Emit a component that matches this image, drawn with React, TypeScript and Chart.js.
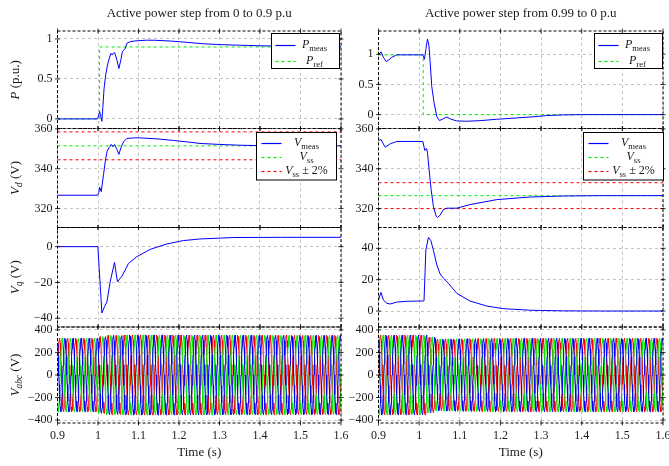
import React, { useEffect, useRef } from 'react';
import { Chart, registerables } from 'chart.js';
Chart.register(...registerables);

const W = 669;
const H = 466;
const FONT = '"Liberation Serif", "Times New Roman", serif';

// ---------- data ----------
const X_MIN = 0.9;
const X_MAX = 1.6;
const X_TICKS = [0.9, 1, 1.1, 1.2, 1.3, 1.4, 1.5, 1.6];

const TITLE_LEFT = 'Active power step from 0 to 0.9 p.u';
const TITLE_RIGHT = 'Active power step from 0.99 to 0 p.u';

// left column: P step 0 -> 0.9
const L_P_T = [0.9, 0.95, 0.999, 1.004, 1.007, 1.0096, 1.012, 1.015, 1.019, 1.0235, 1.028, 1.032, 1.035, 1.0385, 1.041, 1.0466, 1.0516, 1.0565, 1.06, 1.067, 1.0713, 1.0795, 1.09, 1.104, 1.12, 1.14, 1.178, 1.227, 1.26, 1.3, 1.35, 1.4, 1.5, 1.6];
const L_P_MEAS = [0, 0, 0, 0.09, 0.03, -0.03, 0.15, 0.38, 0.55, 0.675, 0.76, 0.82, 0.8, 0.825, 0.83, 0.74, 0.63, 0.74, 0.84, 0.88, 0.946, 0.967, 0.975, 0.98, 0.985, 0.984, 0.975, 0.955, 0.94, 0.93, 0.922, 0.915, 0.908, 0.905];
const L_PREF_T = [0.9, 1.004, 1.004, 1.6];
const L_PREF = [0, 0, 0.9, 0.9];

const L_VD_T = [0.9, 0.999, 1.002, 1.004, 1.008, 1.0136, 1.018, 1.0225, 1.028, 1.0326, 1.0367, 1.041, 1.0466, 1.0516, 1.0565, 1.063, 1.0713, 1.09, 1.104, 1.1455, 1.186, 1.2277, 1.252, 1.3, 1.35, 1.4, 1.5, 1.6];
const L_VD = [326.7, 326.7, 328, 330.8, 328.5, 337, 343.8, 348.8, 350.8, 352.2, 351, 352.2, 349.7, 347.2, 350.5, 353.5, 355.2, 355.5, 355.5, 355, 354.2, 353.3, 352.7, 352.2, 351.8, 351.6, 351.5, 351.5];
const L_VSS = 351.5;
const L_VSS_HI = 358.5;
const L_VSS_LO = 344.5;

const L_VQ_T = [0.9, 0.9997, 1.0096, 1.016, 1.022, 1.03, 1.0408, 1.048, 1.059, 1.067, 1.0753, 1.096, 1.129, 1.17, 1.211, 1.252, 1.335, 1.45, 1.6];
const L_VQ = [0, 0, -37.1, -33.5, -30.9, -19.7, -8.8, -19.7, -16.5, -13.1, -9.35, -5.6, -1.5, 1.5, 3.4, 4.3, 5.1, 5.2, 5.2];

// peak amplitude of each 20 ms cycle (35 cycles, 0.9 s .. 1.6 s)
const L_VABC_AMP = [326.5, 326.5, 326.5, 326.5, 326.5, 340, 352, 350, 355, 355.5, 355.5, 355.5, 355.5, 355, 355, 355, 354.5, 354.5, 354, 354, 353.5, 353.5, 353, 353, 352.5, 352.5, 352, 352, 351.5, 351.5, 351.5, 351.5, 351.5, 351.5, 351.5];

// right column: P step 0.99 -> 0
const R_P_T = [0.9, 0.9066, 0.912, 0.919, 0.926, 0.933, 0.945, 0.97, 1.009, 1.013, 1.0165, 1.0204, 1.024, 1.027, 1.031, 1.0369, 1.0435, 1.05, 1.06, 1.068, 1.078, 1.0926, 1.117, 1.15, 1.191, 1.273, 1.314, 1.355, 1.4, 1.6];
const R_P_MEAS = [0.995, 1.04, 0.95, 0.877, 0.91, 0.95, 0.99, 0.99, 0.99, 0.917, 1.08, 1.25, 1.15, 0.88, 0.47, 0.19, -0.033, -0.1, -0.066, -0.04, -0.075, -0.104, -0.11, -0.1, -0.077, -0.04, -0.016, -0.005, 0, 0];
const R_PREF_T = [0.9, 1.01, 1.01, 1.6];
const R_PREF = [0.99, 0.99, 0, 0];

const R_VD_T = [0.9, 0.906, 0.9164, 0.9287, 0.945, 1.009, 1.014, 1.018, 1.0204, 1.0245, 1.0295, 1.035, 1.0418, 1.045, 1.0516, 1.06, 1.068, 1.0926, 1.125, 1.191, 1.273, 1.355, 1.45, 1.6];
const R_VD = [354.2, 354.7, 350.8, 352.5, 353.7, 353.7, 349.2, 350.2, 348.3, 339.5, 329.5, 321.2, 316.2, 315.5, 316.7, 319.5, 320.2, 320.2, 322, 324.5, 325.8, 326.3, 326.5, 326.5];
const R_VSS = 326.5;
const R_VSS_HI = 333.0;
const R_VSS_LO = 320.0;

const R_VQ_T = [0.9, 0.906, 0.912, 0.9206, 0.929, 0.945, 0.97, 1.009, 1.012, 1.0165, 1.0229, 1.0287, 1.035, 1.0435, 1.0516, 1.06, 1.072, 1.0926, 1.125, 1.166, 1.207, 1.273, 1.355, 1.45, 1.6];
const R_VQ = [7, 11.9, 7, 4.9, 4.5, 5.7, 6.2, 6.4, 6.5, 38.9, 47, 45, 38.9, 29.4, 23.6, 20.9, 17.7, 11.3, 6.4, 3.2, 1.5, 0.5, 0.1, 0, 0];

const R_VABC_AMP = [354, 354, 354, 354, 354, 354, 335, 318, 320.5, 320.5, 321.5, 322.5, 323.5, 324, 324.5, 325, 325.5, 326, 326, 326.5, 326.5, 326.5, 326.5, 326.5, 326.5, 326.5, 326.5, 326.5, 326.5, 326.5, 326.5, 326.5, 326.5, 326.5, 326.5];

// one sampled 50 Hz cycle (normalised, 15-degree steps), and the 120-degree phase offsets in samples
const CYCLE_SHAPE = [0, 0.259, 0.5, 0.707, 0.866, 0.966, 1, 0.966, 0.866, 0.707, 0.5, 0.259, 0, -0.259, -0.5, -0.707, -0.866, -0.966, -1, -0.966, -0.866, -0.707, -0.5, -0.259];
const PHASE_OFFSETS = [0, 8, 16];
const CYCLE_S = 0.02;

// tick values
const P_TICKS = [0, 0.5, 1];
const VD_TICKS = [320, 340, 360];
const L_VQ_TICKS = [-40, -20, 0];
const R_VQ_TICKS = [0, 20, 40];
const VABC_TICKS = [-400, -200, 0, 200, 400];

// ---------- styling ----------
const BLUE = '#0000ff';
const GREEN = '#00ee00';
const RED = '#ff0000';
const GRID = '#b4b4b4';
const TEXT = '#1a1a1a';
const Y_AXIS_W = 50;
const X_AXIS_H = 30;

const COLS = [
  { l: 57.5, r: 341 },
  { l: 378.5, r: 663 },
];
const ROWS = [
  { t: 31, b: 128.5 },
  { t: 128.5, b: 227.5 },
  { t: 227.5, b: 327 },
  { t: 327, b: 423 },
];

type Seg = { t: string; it?: boolean; sub?: boolean };

const pts = (T: number[], V: number[]) => T.map((t, i) => ({ x: t, y: V[i] }));
const hline = (v: number) => [{ x: X_MIN, y: v }, { x: X_MAX, y: v }];
const phaseWave = (amp: number[], offset: number) => {
  const n = CYCLE_SHAPE.length;
  const out: { x: number; y: number }[] = [];
  for (let c = 0; c < amp.length; c++) {
    for (let s = 0; s < n; s++) {
      const idx = c * n + s;
      out.push({ x: X_MIN + (idx * CYCLE_S) / n, y: amp[c] * CYCLE_SHAPE[(s - offset + n) % n] });
    }
  }
  const last = amp.length * n;
  out.push({ x: X_MIN + (last * CYCLE_S) / n, y: amp[amp.length - 1] * CYCLE_SHAPE[(n - offset) % n] });
  return out;
};

const fmt = (v: number) => {
  const r = Math.round(v * 10) / 10;
  return r < 0 ? '\u2212' + String(-r) : String(r);
};

function fontOf(seg: Seg, size: number) {
  const s = seg.sub ? size * 0.72 : size;
  return `${seg.it ? 'italic ' : ''}${s}px ${FONT}`;
}

function drawSegs(ctx: CanvasRenderingContext2D, segs: Seg[], cx: number, cy: number, size: number) {
  ctx.textAlign = 'left';
  ctx.textBaseline = 'alphabetic';
  let total = 0;
  const widths = segs.map((s) => {
    ctx.font = fontOf(s, size);
    const w = ctx.measureText(s.t).width;
    total += w;
    return w;
  });
  let x = cx - total / 2;
  const base = cy + size * 0.33;
  segs.forEach((s, i) => {
    ctx.font = fontOf(s, size);
    ctx.fillText(s.t, x, s.sub ? base + size * 0.22 : base);
    x += widths[i];
  });
}

type LegendEntry = { color: string; dash: number[]; label: Seg[] };
type LegendSpec = { right: number; top: number; width: number; height: number; rows: number[]; lineX: [number, number]; textCx: number; entries: LegendEntry[] };

type Panel = {
  col: number;
  row: number;
  yMin: number;
  yMax: number;
  yTicks: number[];
  datasets: any[];
  yLabel?: Seg[];
  title?: string;
  legend?: LegendSpec;
};

const solid = (data: any[], color: string) => ({ data, borderColor: color, borderWidth: 1, pointRadius: 0, fill: false, tension: 0 });
const dashed = (data: any[], color: string) => ({ ...solid(data, color), borderDash: [3, 3] });

const pLegend = (right: number): LegendSpec => ({
  right,
  top: 1.5,
  width: 68,
  height: 35,
  rows: [11, 27.5],
  lineX: [4, 24],
  textCx: 43,
  entries: [
    { color: BLUE, dash: [], label: [{ t: 'P', it: true }, { t: 'meas', sub: true }] },
    { color: GREEN, dash: [3, 3], label: [{ t: 'P', it: true }, { t: 'ref', sub: true }] },
  ],
});
const vLegend = (right: number): LegendSpec => ({
  right,
  top: 3,
  width: 80,
  height: 47.5,
  rows: [10.5, 24, 38.5],
  lineX: [5, 25],
  textCx: 50,
  entries: [
    { color: BLUE, dash: [], label: [{ t: 'V', it: true }, { t: 'meas', sub: true }] },
    { color: GREEN, dash: [3, 3], label: [{ t: 'V', it: true }, { t: 'ss', sub: true }] },
    { color: RED, dash: [3, 3], label: [{ t: 'V', it: true }, { t: 'ss', sub: true }, { t: ' \u00b1 2%' }] },
  ],
});

const PANELS: Panel[] = [
  {
    col: 0, row: 0, yMin: -0.12, yMax: 1.1, yTicks: P_TICKS, title: TITLE_LEFT,
    yLabel: [{ t: 'P', it: true }, { t: ' (p.u.)' }],
    datasets: [solid(pts(L_P_T, L_P_MEAS), BLUE), dashed(pts(L_PREF_T, L_PREF), GREEN)],
    legend: pLegend(2.5),
  },
  {
    col: 0, row: 1, yMin: 310.5, yMax: 360.2, yTicks: VD_TICKS,
    yLabel: [{ t: 'V', it: true }, { t: 'd', it: true, sub: true }, { t: ' (V)' }],
    datasets: [solid(pts(L_VD_T, L_VD), BLUE), dashed(hline(L_VSS), GREEN), dashed(hline(L_VSS_HI), RED), dashed(hline(L_VSS_LO), RED)],
    legend: vLegend(5),
  },
  {
    col: 0, row: 2, yMin: -44.9, yMax: 10.7, yTicks: L_VQ_TICKS,
    yLabel: [{ t: 'V', it: true }, { t: 'q', it: true, sub: true }, { t: ' (V)' }],
    datasets: [solid(pts(L_VQ_T, L_VQ), BLUE)],
  },
  {
    col: 0, row: 3, yMin: -426, yMax: 426, yTicks: VABC_TICKS,
    yLabel: [{ t: 'V', it: true }, { t: 'abc', it: true, sub: true }, { t: ' (V)' }],
    datasets: [
      solid(phaseWave(L_VABC_AMP, PHASE_OFFSETS[2]), BLUE),
      solid(phaseWave(L_VABC_AMP, PHASE_OFFSETS[1]), GREEN),
      solid(phaseWave(L_VABC_AMP, PHASE_OFFSETS[0]), RED),
    ],
  },
  {
    col: 1, row: 0, yMin: -0.23, yMax: 1.385, yTicks: P_TICKS, title: TITLE_RIGHT,
    datasets: [solid(pts(R_P_T, R_P_MEAS), BLUE), dashed(pts(R_PREF_T, R_PREF), GREEN)],
    legend: pLegend(0.7),
  },
  {
    col: 1, row: 1, yMin: 310.5, yMax: 360.2, yTicks: VD_TICKS,
    datasets: [solid(pts(R_VD_T, R_VD), BLUE), dashed(hline(R_VSS), GREEN), dashed(hline(R_VSS_HI), RED), dashed(hline(R_VSS_LO), RED)],
    legend: vLegend(0.5),
  },
  {
    col: 1, row: 2, yMin: -10.2, yMax: 53.3, yTicks: R_VQ_TICKS,
    datasets: [solid(pts(R_VQ_T, R_VQ), BLUE)],
  },
  {
    col: 1, row: 3, yMin: -426, yMax: 426, yTicks: VABC_TICKS,
    datasets: [
      solid(phaseWave(R_VABC_AMP, PHASE_OFFSETS[2]), BLUE),
      solid(phaseWave(R_VABC_AMP, PHASE_OFFSETS[1]), GREEN),
      solid(phaseWave(R_VABC_AMP, PHASE_OFFSETS[0]), RED),
    ],
  },
];

function makeChart(canvas: HTMLCanvasElement, p: Panel) {
  const col = COLS[p.col];
  const row = ROWS[p.row];
  const showX = p.row === 3;
  const xH = showX ? X_AXIS_H : 0;
  const tickFont = { family: FONT, size: 12 };

  const deco = {
    id: 'deco' + p.col + p.row,
    afterDraw(chart: any) {
      const ctx: CanvasRenderingContext2D = chart.ctx;
      const a = chart.chartArea;
      const xs = chart.scales.x;
      const ys = chart.scales.y;
      ctx.save();
      // tick marks on all four sides
      ctx.strokeStyle = '#000';
      ctx.lineWidth = 0.8;
      ctx.setLineDash([]);
      ctx.beginPath();
      X_TICKS.forEach((v) => {
        const x = xs.getPixelForValue(v);
        ctx.moveTo(x, a.top - 2.5); ctx.lineTo(x, a.top + 2.5);
        ctx.moveTo(x, a.bottom - 2.5); ctx.lineTo(x, a.bottom + 2.5);
      });
      p.yTicks.forEach((v) => {
        const y = ys.getPixelForValue(v);
        ctx.moveTo(a.left - 2.5, y); ctx.lineTo(a.left + 2.5, y);
        ctx.moveTo(a.right - 2.5, y); ctx.lineTo(a.right + 2.5, y);
      });
      ctx.stroke();
      // dashed frame
      ctx.lineWidth = 1;
      ctx.setLineDash([3, 2]);
      ctx.strokeRect(a.left, a.top, a.right - a.left, a.bottom - a.top);
      ctx.setLineDash([]);

      // legend
      if (p.legend) {
        const L = p.legend;
        const bx = Math.round(a.right - L.right - L.width) + 0.5;
        const by = Math.round(a.top + L.top) + 0.5;
        ctx.fillStyle = '#fff';
        ctx.fillRect(bx, by, L.width, L.height);
        ctx.strokeStyle = '#000';
        ctx.lineWidth = 1;
        ctx.strokeRect(bx, by, L.width, L.height);
        L.entries.forEach((e, i) => {
          const y = Math.round(by + L.rows[i]) + 0.5;
          ctx.strokeStyle = e.color;
          ctx.lineWidth = 1.2;
          ctx.setLineDash(e.dash);
          ctx.beginPath();
          ctx.moveTo(bx + L.lineX[0], y);
          ctx.lineTo(bx + L.lineX[1], y);
          ctx.stroke();
          ctx.setLineDash([]);
          ctx.fillStyle = TEXT;
          drawSegs(ctx, e.label, bx + L.textCx, y - 1, 12);
        });
      }

      ctx.fillStyle = TEXT;
      if (p.title) {
        ctx.font = `13px ${FONT}`;
        ctx.textAlign = 'center';
        ctx.textBaseline = 'middle';
        ctx.fillText(p.title, (a.left + a.right) / 2, 14);
      }
      if (showX) {
        ctx.font = `13px ${FONT}`;
        ctx.textAlign = 'center';
        ctx.textBaseline = 'middle';
        ctx.fillText('Time (s)', (a.left + a.right) / 2, 453);
      }
      if (p.yLabel) {
        ctx.save();
        ctx.translate(15, (a.top + a.bottom) / 2);
        ctx.rotate(-Math.PI / 2);
        drawSegs(ctx, p.yLabel, 0, 0, 13);
        ctx.restore();
      }
      ctx.restore();
    },
  };

  return new Chart(canvas, {
    type: 'line',
    data: { datasets: p.datasets },
    options: {
      responsive: false,
      animation: false,
      events: [],
      parsing: false,
      layout: { padding: { left: col.l - Y_AXIS_W, right: W - col.r, top: row.t, bottom: H - row.b - xH } },
      plugins: { legend: { display: false }, tooltip: { enabled: false }, title: { display: false } },
      scales: {
        x: {
          type: 'linear',
          min: X_MIN,
          max: X_MAX,
          afterBuildTicks: (s: any) => { s.ticks = X_TICKS.map((v) => ({ value: v })); },
          afterFit: (s: any) => { s.height = xH; s.paddingLeft = 0; s.paddingRight = 0; },
          ticks: { display: showX, padding: 6, font: tickFont, color: TEXT, maxRotation: 0, minRotation: 0, autoSkip: false, callback: (v: any) => fmt(Number(v)) },
          grid: { color: GRID, lineWidth: 0.8, drawTicks: false },
          border: { display: false, dash: [3, 3] },
        },
        y: {
          type: 'linear',
          min: p.yMin,
          max: p.yMax,
          afterBuildTicks: (s: any) => { s.ticks = p.yTicks.map((v) => ({ value: v })); },
          afterFit: (s: any) => { s.width = Y_AXIS_W; s.paddingTop = 0; s.paddingBottom = 0; },
          ticks: { padding: 5, font: tickFont, color: TEXT, autoSkip: false, callback: (v: any) => fmt(Number(v)) },
          grid: { color: GRID, lineWidth: 0.8, drawTicks: false },
          border: { display: false, dash: [3, 3] },
        },
      },
    } as any,
    plugins: [deco],
  });
}

export default function App() {
  const refs = useRef<(HTMLCanvasElement | null)[]>([]);
  useEffect(() => {
    const charts = PANELS.map((p, i) => makeChart(refs.current[i] as HTMLCanvasElement, p));
    return () => charts.forEach((c) => c.destroy());
  }, []);
  return (
    <div style={{ position: 'fixed', left: 0, top: 0, width: W, height: H, background: '#fff', overflow: 'hidden' }}>
      {PANELS.map((p, i) => (
        <canvas
          key={i}
          ref={(el) => { refs.current[i] = el; }}
          width={W}
          height={H}
          style={{ position: 'absolute', left: 0, top: 0, width: W, height: H }}
        />
      ))}
    </div>
  );
}
